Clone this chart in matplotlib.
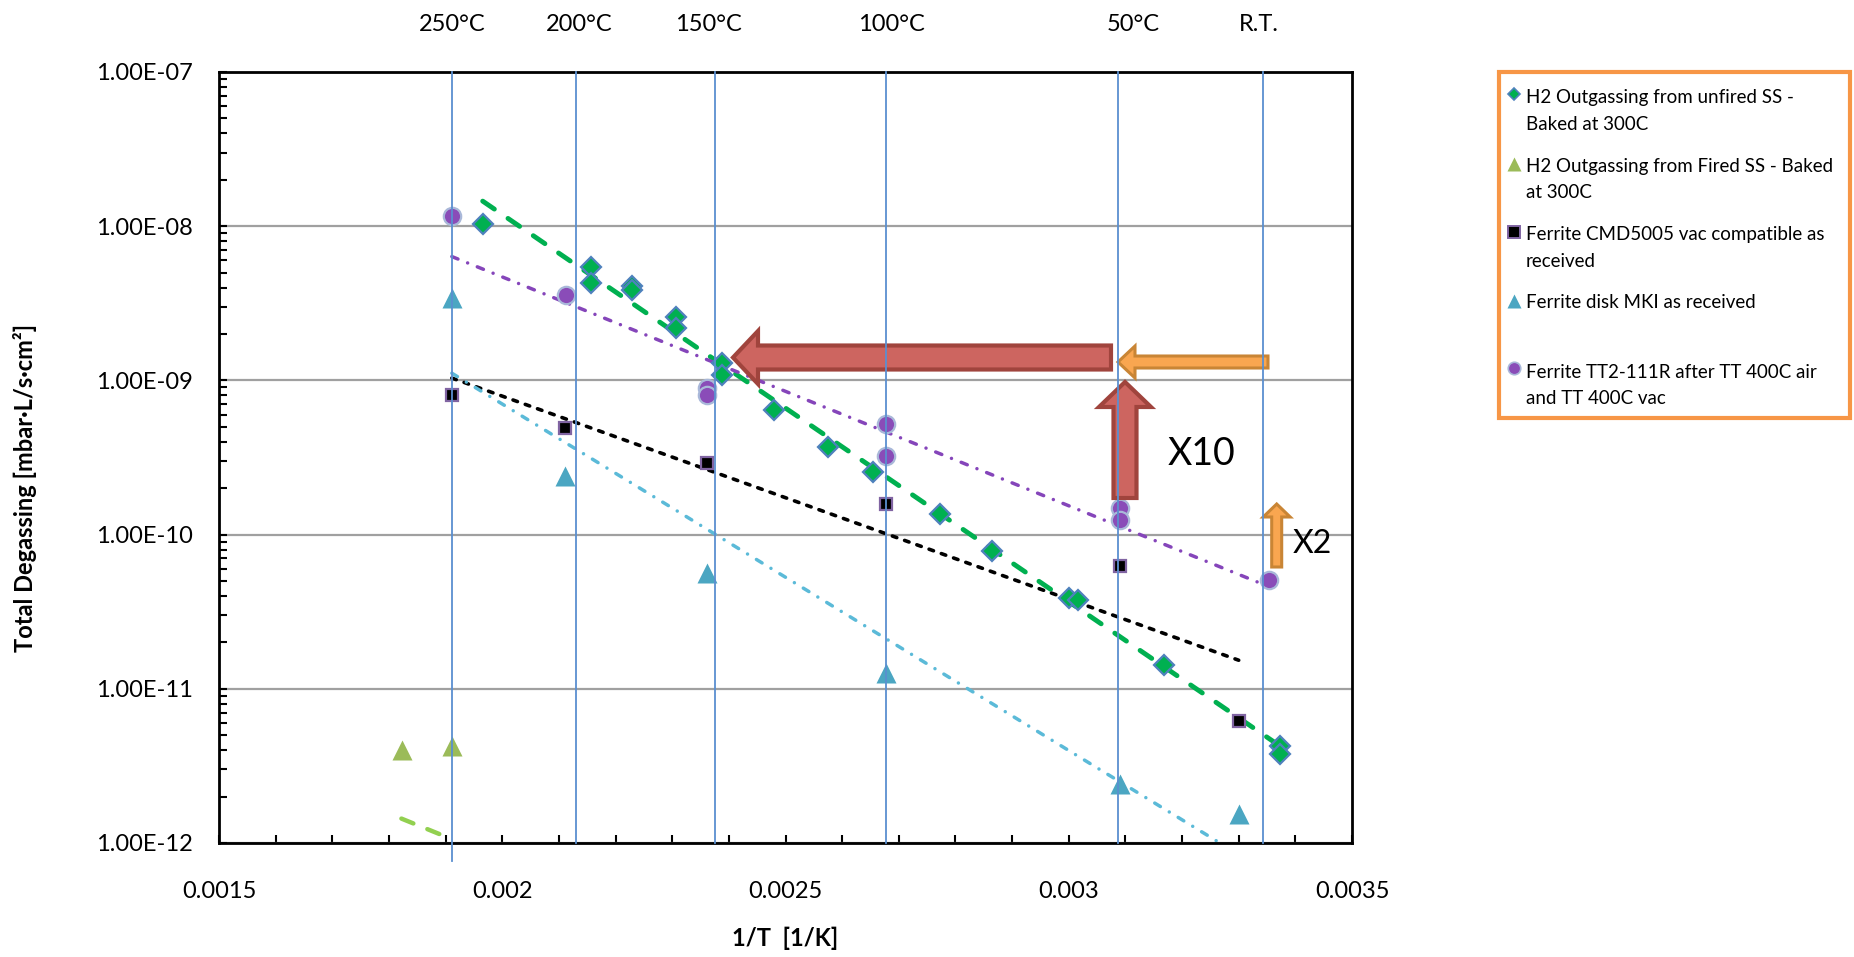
import numpy as np
import matplotlib.pyplot as plt
from matplotlib.patches import Polygon, Rectangle
from matplotlib.lines import Line2D
from matplotlib.ticker import MultipleLocator, LogLocator, NullFormatter, FuncFormatter

plt.rcParams['font.family'] = ['Lato', 'DejaVu Sans']

W, H = 1854, 957

# ---- data ----
unfired_x = [0.0019655, 0.0021561, 0.0021561, 0.0022285, 0.0022285, 0.0023062, 0.0023062,
             0.0023874, 0.0023874, 0.0024797, 0.0025745, 0.0026548, 0.0027731, 0.0028645,
             0.0029999, 0.0030158, 0.0031681, 0.0033729, 0.0033729]
unfired_y = [1.04e-8, 5.41e-9, 4.27e-9, 4.09e-9, 3.86e-9, 2.59e-9, 2.18e-9,
             1.29e-9, 1.08e-9, 6.43e-10, 3.72e-10, 2.56e-10, 1.37e-10, 7.86e-11,
             3.90e-11, 3.77e-11, 1.43e-11, 4.28e-12, 3.76e-12]

fired_x = [0.0018227, 0.0019113]
fired_y = [4.01e-12, 4.26e-12]
fired_trend_x = [0.001822, 0.001911]
fired_trend_y = [1.44e-12, 1.06e-12]

cmd_x = [0.001911, 0.0021108, 0.0023609, 0.002677, 0.0030905, 0.0033]
cmd_y = [8.04e-10, 4.89e-10, 2.90e-10, 1.58e-10, 6.25e-11, 6.18e-12]

mki_x = [0.001911, 0.00211, 0.0023614, 0.002677, 0.00309, 0.0033]
mki_y = [3.40e-9, 2.40e-10, 5.61e-11, 1.26e-11, 2.41e-12, 1.54e-12]

tt2_x = [0.001911, 0.0021125, 0.002362, 0.002362, 0.002677, 0.002677, 0.003091, 0.003091, 0.0033535]
tt2_y = [1.16e-8, 3.58e-9, 8.89e-10, 8.04e-10, 5.21e-10, 3.24e-10, 1.49e-10, 1.24e-10, 5.10e-11]

temp_x = [0.001911, 0.00213, 0.002376, 0.002677, 0.003087, 0.003343]
temp_labels = ['250°C', '200°C', '150°C', '100°C', '50°C', 'R.T.']
temp_label_px = [452, 579, 708, 891, 1133, 1259]

legend_labels = [
    ['H2 Outgassing from unfired SS -', 'Baked at 300C'],
    ['H2 Outgassing from Fired SS - Baked', 'at 300C'],
    ['Ferrite CMD5005 vac compatible as', 'received'],
    ['Ferrite disk MKI as received'],
    ['Ferrite TT2-111R after TT 400C air', 'and TT 400C vac'],
]


def fx(px):
    return px / W


def fy(py):
    return 1 - py / H


def exp_fit(x, y):
    # exponential trendline, like the spreadsheet one
    x = np.asarray(x)
    b, a = np.polyfit(x, np.log(y), 1)
    xs = np.linspace(x.min(), x.max(), 50)
    return xs, np.exp(a + b * xs)


fig = plt.figure(figsize=(W / 100, H / 100), dpi=100)
ax = fig.add_axes([fx(219), fy(843), fx(1352 - 219), (843 - 72) / H])
ax.set_yscale('log')
ax.set_xlim(0.0015, 0.0035)
ax.set_ylim(1e-12, 1e-7)

ax.xaxis.set_major_locator(MultipleLocator(0.0005))
ax.xaxis.set_minor_locator(MultipleLocator(0.0001))
ax.xaxis.set_major_formatter(FuncFormatter(lambda v, p: f'{v:g}'))
ax.xaxis.set_minor_formatter(NullFormatter())
ax.yaxis.set_major_locator(LogLocator(base=10, numticks=10))
ax.yaxis.set_minor_locator(LogLocator(base=10, subs=np.arange(2, 10), numticks=10))
ax.yaxis.set_minor_formatter(NullFormatter())
ax.yaxis.set_major_formatter(FuncFormatter(lambda v, p: f'{v:.2E}'))

ax.tick_params(which='both', direction='in', length=6, width=1.5, labelsize=17)
ax.tick_params(axis='x', which='both', pad=27)
ax.tick_params(axis='y', which='both', pad=19)
for s in ax.spines.values():
    s.set_linewidth(2)
ax.set_axisbelow(True)
ax.grid(axis='y', which='major', color='#A0A0A0', lw=1.6)

# trendlines
xs, ys = exp_fit(unfired_x, unfired_y)
ax.plot(xs, ys, color='#00B050', lw=3.5, dashes=(2.9, 3.4), dash_capstyle='round', zorder=2)
ax.plot(fired_trend_x, fired_trend_y, color='#92D050', lw=3.2, dashes=(2.9, 3.4),
        dash_capstyle='round', zorder=2)
xs, ys = exp_fit(cmd_x, cmd_y)
ax.plot(xs, ys, color='black', lw=2.6, dashes=(1.3, 2.3), dash_capstyle='round', zorder=2)
xs, ys = exp_fit(mki_x, mki_y)
ax.plot(xs, ys, color='#5BBAD8', lw=2.5, dashes=(1.9, 3, 0.01, 3), dash_capstyle='round', zorder=2)
xs, ys = exp_fit(tt2_x, tt2_y)
ax.plot(xs, ys, color='#8545BA', lw=2.5, dashes=(1.9, 3, 0.01, 3), dash_capstyle='round', zorder=2)

# markers
ax.plot(unfired_x, unfired_y, 'D', ms=10, mfc='#00B050', mec='#4F81BD', mew=1.6, ls='none', zorder=3)
ax.plot(fired_x, fired_y, '^', ms=14, mfc='#9BBB59', mec='none', ls='none', zorder=3)
ax.plot(cmd_x, cmd_y, 's', ms=9, mfc='black', mec='#8064A2', mew=1.6, ls='none', zorder=3)
ax.plot(mki_x, mki_y, '^', ms=14, mfc='#4BA6C2', mec='none', ls='none', zorder=3)
ax.plot(tt2_x, tt2_y, 'o', ms=12.5, mfc='#8A4CB8', mec='#A9B8D9', mew=1.6, ls='none', zorder=3)


def block_arrow(x0, y0, x1, y1, shaft, head, head_len, fc, ec, lw):
    p0 = np.array([x0, y0], float)
    tip = np.array([x1, y1], float)
    d = tip - p0
    L = np.hypot(*d)
    u = d / L
    n = np.array([-u[1], u[0]])
    base = p0 + u * (L - head_len)
    pts = [p0 + n * shaft / 2, base + n * shaft / 2, base + n * head / 2, tip,
           base - n * head / 2, base - n * shaft / 2, p0 - n * shaft / 2]
    pts = [(fx(p[0]), fy(p[1])) for p in pts]
    ax.add_patch(Polygon(pts, closed=True, transform=fig.transFigure, fc=fc, ec=ec, lw=lw,
                         joinstyle='miter', clip_on=False, zorder=5))


red_fc, red_ec = '#CD6560', '#A0443D'
org_fc, org_ec = '#F9A650', '#C98535'
block_arrow(1111, 357.5, 733, 357.5, 24, 53, 25, red_fc, red_ec, 3)
block_arrow(1268, 362, 1118, 362, 12, 32, 17, org_fc, org_ec, 2.2)
block_arrow(1125, 498, 1125, 382, 23, 52, 25, red_fc, red_ec, 3)
block_arrow(1276.7, 567, 1276.7, 504, 10, 27, 13, org_fc, org_ec, 2.2)

fig.text(fx(1168), fy(465), 'X10', fontsize=27, ha='left', va='baseline')
fig.text(fx(1293), fy(552.6), 'X2', fontsize=23, ha='left', va='baseline')

# temperature lines
for i, xv in enumerate(temp_x):
    ax.axvline(xv, ymin=-0.023 if i == 0 else 0, ymax=1, color='#5A8FD0', lw=1.3,
               clip_on=False, zorder=6)
for lab, px in zip(temp_labels, temp_label_px):
    fig.text(fx(px), fy(30.7), lab, fontsize=17, ha='center', va='baseline')

fig.text(fx(785), fy(946), '1/T  [1/K]', fontsize=17, fontweight='bold', ha='center', va='baseline')
fig.text(fx(25), fy(488), 'Total Degassing [mbar·L/s·cm²]', fontsize=17, fontweight='bold',
         rotation=90, ha='center', va='center')

# legend
fig.add_artist(Rectangle((fx(1499), fy(418)), fx(1850 - 1499), (418 - 72) / H,
                         transform=fig.transFigure, fc='white', ec='#F79646', lw=3))
leg_marks = [
    dict(marker='D', ms=6.5, mfc='#00B050', mec='#4F81BD', mew=1.2),
    dict(marker='^', ms=9.5, mfc='#9BBB59', mec='none'),
    dict(marker='s', ms=8, mfc='black', mec='#8064A2', mew=1.4),
    dict(marker='^', ms=9.5, mfc='#4BA6C2', mec='none'),
    dict(marker='o', ms=9, mfc='#8A4CB8', mec='#A9B8D9', mew=1.2),
]
mark_y = [94.3, 164, 232.3, 301, 368.3]
base_y = [103.3, 171.7, 240, 308.3, 377.7]
for lines, mk, my, by in zip(legend_labels, leg_marks, mark_y, base_y):
    fig.add_artist(Line2D([fx(1514)], [fy(my)], transform=fig.transFigure, ls='none', **mk))
    for j, line in enumerate(lines):
        fig.text(fx(1526), fy(by + j * 26.7), line, fontsize=13.5, ha='left', va='baseline')

fig.savefig('out.png', dpi=100)
